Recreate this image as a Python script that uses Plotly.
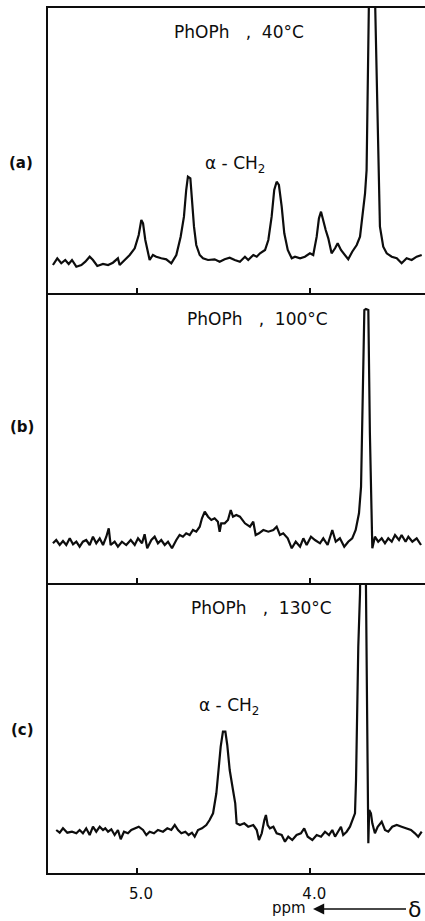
import plotly.graph_objects as go

# ---- data (chemical shift in ppm, intensity in arbitrary units) ----
a_ppm = [5.485, 5.460, 5.437, 5.414, 5.394, 5.375, 5.350, 5.321, 5.298, 5.273, 5.254, 5.229, 5.196, 5.167,
         5.139, 5.110, 5.100, 5.071, 5.042, 5.013, 4.990, 4.975, 4.965, 4.952, 4.937, 4.927, 4.908, 4.889,
         4.860, 4.831, 4.802, 4.773, 4.748, 4.729, 4.716, 4.706, 4.692, 4.683, 4.671, 4.658, 4.638, 4.619,
         4.590, 4.552, 4.523, 4.494, 4.465, 4.436, 4.406, 4.377, 4.358, 4.329, 4.309, 4.290, 4.261, 4.242,
         4.223, 4.208, 4.194, 4.181, 4.165, 4.150, 4.130, 4.107, 4.088, 4.059, 4.031, 4.002, 3.983, 3.963,
         3.950, 3.938, 3.925, 3.911, 3.896, 3.877, 3.857, 3.842, 3.823, 3.800, 3.781, 3.758, 3.732, 3.713,
         3.698, 3.684, 3.675, 3.670, 3.661, 3.627, 3.608, 3.604, 3.598, 3.579, 3.559, 3.530, 3.501, 3.473,
         3.444, 3.415, 3.386, 3.357]
a_int = [28, 34.7, 29.7, 33, 29, 33, 26.3, 28, 31.3, 36.3, 33, 27, 29, 28,
         30.3, 34.7, 28, 33, 38, 44.7, 58, 73, 69.7, 53, 39.7, 33, 38, 36.3,
         34.7, 33.7, 29.7, 38, 56.3, 76.3, 103, 116.3, 114.7, 93, 66.3, 48, 38, 34.7,
         33, 33.7, 31.3, 33.7, 35.3, 33, 31.3, 36.3, 33, 38, 36.3, 39.7, 43, 53,
         76.3, 103, 111.3, 108, 86.3, 59.7, 43, 34.7, 36.3, 34.7, 36.3, 39.7, 38, 56.3,
         74.7, 81.3, 71.3, 63, 54.7, 39.7, 44.7, 49.7, 43, 38, 33.7, 41.3, 48, 56.3,
         76.3, 99.7, 123, 200, 300, 300, 133, 100, 66.3, 46.3, 39.7, 36.3, 34.7, 29.7,
         34.7, 33, 36.3, 38]

b_ppm = [5.485, 5.466, 5.446, 5.427, 5.408, 5.388, 5.369, 5.350, 5.331, 5.312, 5.293, 5.273, 5.254, 5.235,
         5.215, 5.196, 5.177, 5.163, 5.152, 5.129, 5.110, 5.087, 5.062, 5.036, 5.013, 4.994, 4.971, 4.956,
         4.941, 4.917, 4.898, 4.879, 4.860, 4.840, 4.821, 4.798, 4.773, 4.754, 4.735, 4.716, 4.696, 4.677,
         4.658, 4.638, 4.625, 4.609, 4.590, 4.571, 4.552, 4.533, 4.523, 4.514, 4.494, 4.475, 4.459, 4.446,
         4.427, 4.406, 4.377, 4.348, 4.329, 4.315, 4.296, 4.271, 4.242, 4.213, 4.194, 4.175, 4.156, 4.130,
         4.107, 4.084, 4.059, 4.040, 4.021, 3.996, 3.973, 3.944, 3.925, 3.900, 3.873, 3.853, 3.829, 3.804,
         3.781, 3.758, 3.738, 3.719, 3.707, 3.700, 3.694, 3.688, 3.679, 3.665, 3.656, 3.646, 3.642, 3.627,
         3.608, 3.588, 3.569, 3.550, 3.530, 3.511, 3.488, 3.473, 3.450, 3.434, 3.411, 3.386, 3.361]
b_int = [39.7, 43, 38, 42, 38, 44.7, 38.7, 41.3, 36.3, 41.3, 43, 38, 46.3, 39.7,
         44.7, 38, 46.3, 54.7, 38, 41.3, 36.3, 41.3, 38, 43, 38, 44.7, 39.7, 48.7,
         34.7, 43, 46.3, 39.7, 43, 38, 41.3, 34.7, 43, 48, 46.3, 49.7, 48, 53,
         51.3, 56.3, 64.7, 71.3, 66.3, 63, 64.7, 61.3, 51.3, 59.7, 59.7, 63, 73, 66.3,
         68, 66.3, 59.7, 56.3, 61.3, 48, 49.7, 53, 51.3, 53, 56.3, 48, 49.7, 44.7,
         34.7, 41.3, 36.3, 44.7, 38, 46.3, 43, 39.7, 44.7, 38, 53, 41.3, 44.7, 36.3,
         41.3, 44.7, 53, 69.7, 96.3, 149.7, 216.3, 273, 274, 273, 149.7, 53, 34.7, 46.3,
         41.3, 44.7, 39.7, 44.7, 41.3, 48, 43, 48, 41.3, 46.3, 41.3, 44.7, 38]

c_ppm = [5.466, 5.446, 5.427, 5.402, 5.375, 5.350, 5.331, 5.312, 5.293, 5.273, 5.254, 5.235, 5.215, 5.196,
         5.183, 5.167, 5.148, 5.129, 5.110, 5.094, 5.075, 5.052, 5.033, 5.010, 4.990, 4.965, 4.946, 4.927,
         4.902, 4.879, 4.850, 4.825, 4.802, 4.782, 4.763, 4.744, 4.721, 4.702, 4.683, 4.667, 4.648, 4.625,
         4.600, 4.581, 4.561, 4.542, 4.529, 4.517, 4.504, 4.490, 4.479, 4.465, 4.446, 4.433, 4.425, 4.406,
         4.381, 4.358, 4.329, 4.309, 4.296, 4.280, 4.265, 4.256, 4.246, 4.233, 4.213, 4.194, 4.165, 4.146,
         4.127, 4.104, 4.079, 4.054, 4.035, 4.015, 3.988, 3.963, 3.938, 3.915, 3.892, 3.873, 3.857, 3.838,
         3.823, 3.810, 3.790, 3.771, 3.758, 3.742, 3.736, 3.731, 3.723, 3.713, 3.710, 3.681, 3.665, 3.660,
         3.650, 3.642, 3.627, 3.611, 3.588, 3.569, 3.550, 3.527, 3.501, 3.473, 3.444, 3.419, 3.396, 3.377,
         3.357]
c_int = [43, 40.3, 44.7, 40.3, 41.3, 39.7, 43, 39.7, 44.7, 38, 46.3, 41.3, 46.3, 43,
         44.7, 41.3, 43.7, 38, 43, 33.7, 41.3, 39.7, 43, 44.7, 46.3, 43, 38, 41.3,
         39.7, 43, 41.3, 44.7, 43, 48, 43, 39.7, 41.3, 38, 40.3, 36.3, 43, 44.7,
         48, 53, 59.7, 79.7, 103, 126.3, 141.3, 141.3, 128, 103, 83, 69.7, 49.7, 48,
         49.7, 46.3, 48, 43, 33, 39.7, 53, 58, 48, 44.7, 46.3, 39.7, 38, 31.3,
         36.3, 33, 38, 39.7, 44.7, 36.3, 33, 38, 36.3, 41.3, 38, 43, 36.3, 41.3,
         46.3, 38, 41.3, 46.3, 53, 59.7, 93, 159.7, 226.3, 279.7, 330, 330, 29.7, 63,
         59.7, 49.7, 39.7, 46.3, 51.3, 43, 41.3, 46.3, 48, 46.3, 44.7, 43, 39.7, 36.3,
         41.3]

tick_vals = [5.0, 4.0]
tick_text = ["5.0", "4.0"]
panel_labels = ["(a)", "(b)", "(c)"]
panel_titles = ["PhOPh\u00a0\u00a0\u00a0,\u00a0\u00a040°C", "PhOPh\u00a0\u00a0\u00a0,\u00a0\u00a0100°C",
                "PhOPh\u00a0\u00a0\u00a0,\u00a0\u00a0130°C"]
peak_label = "α\u00a0-\u00a0CH<sub>2</sub>"

W, H = 425, 921
FONT = "DejaVu Sans"
INK = "#0d0d0d"

def px(x):
    return x / W

def py(y):
    return 1 - y / H

x_range = [5.5135, 3.338]
x_dom = [px(48), 1.0]
y_doms = [[py(293), py(8)], [py(583), py(293)], [py(873), py(583)]]
y_ranges = [[0, 285], [0, 290], [0, 290]]

fig = go.Figure()
for i, (xs, ys) in enumerate([(a_ppm, a_int), (b_ppm, b_int), (c_ppm, c_int)]):
    n = "" if i == 0 else str(i + 1)
    fig.add_trace(go.Scatter(x=xs, y=ys, mode="lines", xaxis="x" + n, yaxis="y" + n,
                             line=dict(color=INK, width=2.2), showlegend=False, hoverinfo="skip"))

layout = dict(width=W, height=H, margin=dict(l=0, r=0, t=0, b=0),
              paper_bgcolor="white", plot_bgcolor="white",
              font=dict(family=FONT, color=INK), showlegend=False)
for i in range(3):
    n = "" if i == 0 else str(i + 1)
    ax = dict(domain=x_dom, range=x_range, anchor="y" + n,
              showline=True, linecolor=INK, linewidth=2,
              mirror=(i == 0), ticks="inside", ticklen=5, tickwidth=2,
              tickcolor=INK, tickvals=tick_vals, showgrid=False, zeroline=False)
    if i == 2:
        ax.update(ticktext=tick_text, showticklabels=True,
                  tickfont=dict(family=FONT, size=15, color=INK),
                  ticklabelstandoff=6, ticklabelshift=-4)
    else:
        ax.update(showticklabels=False)
    layout["xaxis" + n] = ax
    layout["yaxis" + n] = dict(domain=y_doms[i], range=y_ranges[i], anchor="x" + n,
                               showline=True, linecolor=INK, linewidth=2, ticks="",
                               showticklabels=False, showgrid=False, zeroline=False)
fig.update_layout(**layout)

def note(text, x, y, size):
    return dict(text=text, x=px(x), y=py(y), xref="paper", yref="paper", showarrow=False,
                xanchor="center", yanchor="middle",
                font=dict(family=FONT, size=size, color=INK))

anns = []
label_pos = [(21, 163), (22, 427), (22, 730)]
title_pos = [(239, 32), (257, 319), (261, 608)]
for i in range(3):
    anns.append(note("<b>" + panel_labels[i] + "</b>", label_pos[i][0], label_pos[i][1], 15))
    anns.append(note(panel_titles[i], title_pos[i][0], title_pos[i][1], 17))
for (lx, ly) in [(235, 165), (229, 706)]:
    anns.append(note(peak_label, lx, ly, 17))
anns.append(note("ppm", 289, 908, 15))
anns.append(dict(text="δ", x=px(313), y=py(909), xref="paper", yref="paper",
                 ax=101, ay=0, axref="pixel", ayref="pixel", showarrow=True,
                 arrowhead=2, arrowsize=1.4, arrowwidth=1.6, arrowcolor=INK, standoff=0,
                 font=dict(family=FONT, size=22, color=INK)))
fig.update_layout(annotations=anns)

fig.write_html("out.html", config={"displayModeBar": False},
               post_script="document.body.style.margin='0px';document.body.style.overflow='hidden';")
